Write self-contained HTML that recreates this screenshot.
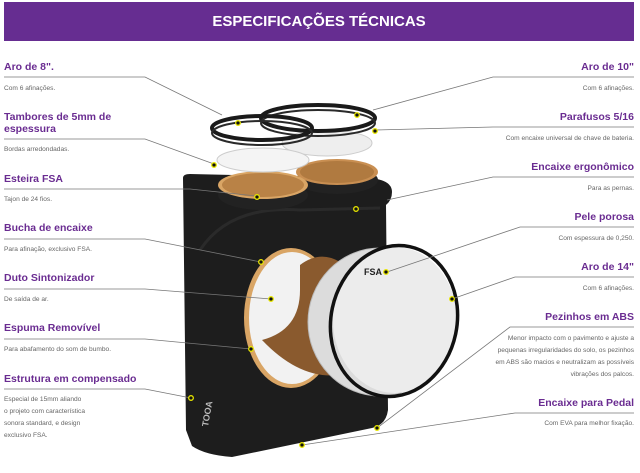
<!DOCTYPE html>
<html><head><meta charset="utf-8"><style>
html,body{margin:0;padding:0;background:#fff;}
svg{display:block}
.t{font-family:"Liberation Sans",sans-serif;font-weight:bold;fill:#6a2c91;font-size:10.5px}
.d{font-family:"Liberation Sans",sans-serif;fill:#666;font-size:6.6px}
.l{stroke:#777;stroke-width:0.8;fill:none}
.yd{fill:#111;stroke:#e8e600;stroke-width:1.3}
</style></head><body>
<svg width="640" height="473" viewBox="0 0 640 473" xmlns="http://www.w3.org/2000/svg">
<rect x="4" y="2" width="630" height="39" fill="#662d91"/>
<text x="319" y="26" text-anchor="middle" font-family="Liberation Sans,sans-serif" font-weight="bold" font-size="15" fill="#fff">ESPECIFICAÇÕES TÉCNICAS</text>

<!-- cajon body -->
<path d="M183,178 Q183,174 190,174 L370,178 Q392,180 392,192 Q392,200 386,205 L388,410 Q386,425 372,428 L232,457 Q205,455 192,446 L186,430 Z" fill="#1d1d1d"/>
<path d="M200,250 Q230,205 300,210 L380,208" stroke="#2a2a2a" stroke-width="3" fill="none"/>
<!-- port -->
<ellipse cx="291" cy="318" rx="47" ry="70" fill="#d9a565"/>
<ellipse cx="292" cy="318" rx="43" ry="66" fill="#f2f2f2"/>
<path d="M300,265 Q320,250 340,262 L340,375 Q300,380 262,340 Q300,330 300,290 Z" fill="#8a5a2e"/>
<!-- bass drum -->
<ellipse cx="380" cy="322" rx="72" ry="74" fill="#dcdcdc" stroke="#bbb" stroke-width="1"/>
<ellipse cx="395" cy="320" rx="62" ry="73" fill="#ececec"/>
<ellipse cx="394" cy="321" rx="63" ry="76" fill="none" stroke="#111" stroke-width="3.5" transform="rotate(12 394 321)"/>
<text x="364" y="275" font-family="Liberation Sans,sans-serif" font-weight="bold" font-size="9" fill="#222">FSA</text>
<!-- top drums -->
<ellipse cx="337" cy="180" rx="41" ry="14" fill="#222"/>
<ellipse cx="337" cy="172" rx="41" ry="13" fill="#c98f52"/>
<ellipse cx="337" cy="172" rx="37" ry="11" fill="#b07a40"/>
<ellipse cx="263" cy="195" rx="45" ry="15" fill="#222"/>
<ellipse cx="263" cy="185" rx="45" ry="14" fill="#d9a565"/>
<ellipse cx="263" cy="185" rx="41" ry="12" fill="#b98246"/>
<ellipse cx="327" cy="143" rx="45" ry="13" fill="#eeeeee" stroke="#ccc"/>
<ellipse cx="263" cy="160" rx="46" ry="12" fill="#f4f4f4" stroke="#ccc"/>
<ellipse cx="318" cy="118" rx="57" ry="13" fill="none" stroke="#1a1a1a" stroke-width="4"/>
<ellipse cx="318" cy="123" rx="57" ry="13" fill="none" stroke="#2a2a2a" stroke-width="2"/>
<ellipse cx="262" cy="128" rx="50" ry="12" fill="none" stroke="#1a1a1a" stroke-width="4"/>
<ellipse cx="262" cy="133" rx="50" ry="12" fill="none" stroke="#2a2a2a" stroke-width="2"/>
<text x="208" y="427" font-family="Liberation Sans,sans-serif" font-weight="bold" font-size="9" fill="#bbb" transform="rotate(-80 208 427)">TOOA</text>

<!-- left labels -->
<text class="t" x="4" y="70">Aro de 8".</text>
<path class="l" d="M4,77 H145 L222,115"/><text class="d" x="4" y="90">Com 6 afinações.</text>
<text class="t" x="4" y="120">Tambores de 5mm de</text><text class="t" x="4" y="132">espessura</text>
<path class="l" d="M4,139 H145 L214,164"/><text class="d" x="4" y="151">Bordas arredondadas.</text>
<text class="t" x="4" y="182">Esteira FSA</text>
<path class="l" d="M4,189 H190 L256,196"/><text class="d" x="4" y="201">Tajon de 24 fios.</text>
<text class="t" x="4" y="231">Bucha de encaixe</text>
<path class="l" d="M4,239 H145 L261,262"/><text class="d" x="4" y="251">Para afinação, exclusivo FSA.</text>
<text class="t" x="4" y="281">Duto Sintonizador</text>
<path class="l" d="M4,289 H145 L271,299"/><text class="d" x="4" y="301">De saída de ar.</text>
<text class="t" x="4" y="331">Espuma Removível</text>
<path class="l" d="M4,339 H145 L251,349"/><text class="d" x="4" y="351">Para abafamento do som de bumbo.</text>
<text class="t" x="4" y="382">Estrutura em compensado</text>
<path class="l" d="M4,389 H145 L191,398"/>
<text class="d" x="4" y="401">Especial de 15mm aliando</text>
<text class="d" x="4" y="413">o projeto com característica</text>
<text class="d" x="4" y="425">sonora standard, e design</text>
<text class="d" x="4" y="437">exclusivo FSA.</text>

<!-- right labels -->
<text class="t" x="634" y="70" text-anchor="end">Aro de 10"</text>
<path class="l" d="M634,77 H493 L373,110"/><text class="d" x="634" y="90" text-anchor="end">Com 6 afinações.</text>
<text class="t" x="634" y="120" text-anchor="end">Parafusos 5/16</text>
<path class="l" d="M634,127 H493 L375,130"/><text class="d" x="634" y="140" text-anchor="end">Com encaixe universal de chave de bateria.</text>
<text class="t" x="634" y="170" text-anchor="end">Encaixe ergonômico</text>
<path class="l" d="M634,177 H493 L387,200"/><text class="d" x="634" y="190" text-anchor="end">Para as pernas.</text>
<text class="t" x="634" y="220" text-anchor="end">Pele porosa</text>
<path class="l" d="M634,227 H520 L387,272"/><text class="d" x="634" y="240" text-anchor="end">Com espessura de 0,250.</text>
<text class="t" x="634" y="270" text-anchor="end">Aro de 14"</text>
<path class="l" d="M634,277 H515 L452,299"/><text class="d" x="634" y="290" text-anchor="end">Com 6 afinações.</text>
<text class="t" x="634" y="320" text-anchor="end">Pezinhos em ABS</text>
<path class="l" d="M634,327 H510 L377,428"/>
<text class="d" x="634" y="340" text-anchor="end">Menor impacto com o pavimento e ajuste a</text>
<text class="d" x="634" y="352" text-anchor="end">pequenas irregularidades do solo, os pezinhos</text>
<text class="d" x="634" y="364" text-anchor="end">em ABS são macios e neutralizam as possíveis</text>
<text class="d" x="634" y="376" text-anchor="end">vibrações dos palcos.</text>
<text class="t" x="634" y="406" text-anchor="end">Encaixe para Pedal</text>
<path class="l" d="M634,413 H515 L302,445"/><text class="d" x="634" y="425" text-anchor="end">Com EVA para melhor fixação.</text>

<!-- dots -->
<g class="yd">
<circle cx="238" cy="123" r="2.3"/><circle cx="357" cy="115" r="2.3"/>
<circle cx="214" cy="165" r="2.3"/><circle cx="375" cy="131" r="2.3"/>
<circle cx="257" cy="197" r="2.3"/><circle cx="356" cy="209" r="2.3"/>
<circle cx="261" cy="262" r="2.3"/><circle cx="386" cy="272" r="2.3"/>
<circle cx="271" cy="299" r="2.3"/><circle cx="452" cy="299" r="2.3"/>
<circle cx="251" cy="349" r="2.3"/><circle cx="191" cy="398" r="2.3"/>
<circle cx="377" cy="428" r="2.3"/><circle cx="302" cy="445" r="2.3"/>
</g>
</svg>
</body></html>
